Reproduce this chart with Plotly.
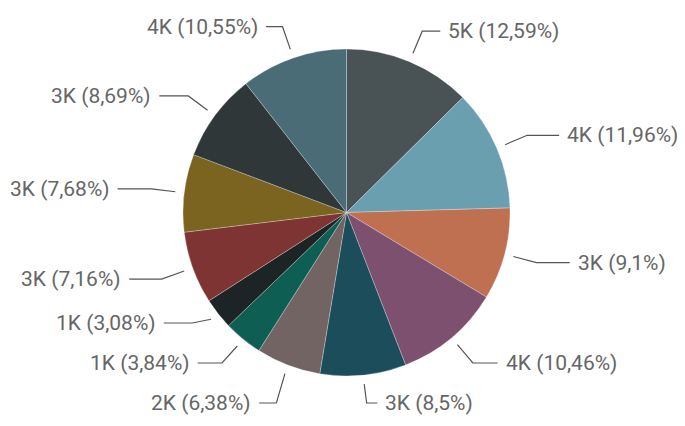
import math
import plotly.graph_objects as go

names = ["5K", "4K", "3K", "4K", "3K", "2K", "1K", "1K", "3K", "3K", "3K", "4K"]
values = [12.59, 11.96, 9.1, 10.46, 8.5, 6.38, 3.84, 3.08, 7.16, 7.68, 8.69, 10.55]
colors = ["#495255", "#6a9fb0", "#be7050", "#7d5070", "#1c4d5b", "#726463",
          "#0f5e54", "#1c2426", "#7f3434", "#7a6420", "#2f3739", "#4a6c77"]

W, H = 685, 426
OFF = 8  # page body margin
CX, CY, R = 346.5 - OFF, 212.5 - OFF, 163.5

def fmt(v):
    s = ("%.2f" % v).rstrip("0").rstrip(".")
    return s.replace(".", ",")

labels = ["%s (%s%%)" % (n, fmt(v)) for n, v in zip(names, values)]

fig = go.Figure(go.Pie(
    labels=labels, values=values, sort=False, direction="clockwise", rotation=0,
    marker=dict(colors=colors, line=dict(color="rgba(255,255,255,0.45)", width=0.6)),
    textinfo="none", hoverinfo="label", showlegend=False,
    domain=dict(x=[(CX - R) / W, (CX + R) / W], y=[(H - CY - R) / H, (H - CY + R) / H]),
))

# leader lines and labels computed from data
total = sum(values)
r1, r2, gap, mingap = R + 9, R + 33, 6, 40
ymax = H - OFF - 23
items = []
acc = 0.0
for i, v in enumerate(values):
    mid = (acc + v / 2) / total * 2 * math.pi
    acc += v
    s, c = math.sin(mid), math.cos(mid)
    items.append(dict(i=i, s=s, c=c, x1=CX + r1 * s, y1=CY - r1 * c,
                      x2=CX + r2 * s, y=CY - r2 * c, right=s >= 0,
                      len2=8 + 26 * abs(s)))

for side in (True, False):
    grp = sorted([it for it in items if it["right"] == side], key=lambda d: d["y"])
    for k in range(1, len(grp)):
        if grp[k]["y"] - grp[k - 1]["y"] < mingap:
            grp[k]["y"] = grp[k - 1]["y"] + mingap
    if grp[-1]["y"] > ymax:
        grp[-1]["y"] = ymax
        for k in range(len(grp) - 2, -1, -1):
            if grp[k + 1]["y"] - grp[k]["y"] < mingap:
                grp[k]["y"] = grp[k + 1]["y"] - mingap

shapes, annotations = [], []
for it in items:
    d = 1 if it["right"] else -1
    x3 = it["x2"] + d * it["len2"]
    pts = [(it["x1"], it["y1"]), (it["x2"], it["y"]), (x3, it["y"])]
    path = "M " + " L ".join("%.4f,%.4f" % (px / W, 1 - py / H) for px, py in pts)
    shapes.append(dict(type="path", path=path, xref="paper", yref="paper",
                       line=dict(color="#555555", width=1.2)))
    annotations.append(dict(x=(x3 + d * gap) / W, y=1 - it["y"] / H, xref="paper", yref="paper",
                            text=labels[it["i"]], showarrow=False,
                            xanchor="left" if it["right"] else "right", yanchor="middle",
                            font=dict(family="Roboto, sans-serif", size=21, color="#666666")))

fig.update_layout(width=W, height=H, margin=dict(l=0, r=0, t=0, b=0),
                  paper_bgcolor="white", plot_bgcolor="white",
                  shapes=shapes, annotations=annotations)
fig.write_html("out.html")
